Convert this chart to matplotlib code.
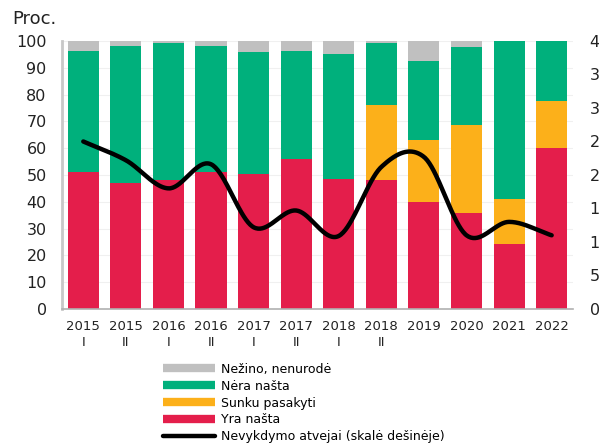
import matplotlib
matplotlib.use('Agg')
import matplotlib.pyplot as plt
import numpy as np
from matplotlib.lines import Line2D

# Data
periods = ['2015\nI', '2015\nII', '2016\nI', '2016\nII', '2017\nI', '2017\nII',
           '2018\nI', '2018\nII', '2019', '2020', '2021', '2022']
yra_nasta = [51.1, 47.0, 48.3, 51.1, 50.5, 56.0, 48.4, 48.3, 40.0, 35.7, 24.3, 60.2]
sunku_pasakyti = [0, 0, 0, 0, 0, 0, 0, 27.8, 23.1, 32.8, 16.7, 17.3]
nera_nasta = [45.2, 51.3, 51.1, 47.2, 45.5, 40.3, 46.9, 23.2, 29.4, 29.3, 59.0, 22.5]
nezino = [3.7, 1.7, 0.6, 1.7, 4.0, 3.7, 4.7, 0.7, 7.5, 2.2, 0.0, 0.0]
nevykdymo = [25.0, 22.2, 18.0, 21.6, 12.2, 14.7, 10.9, 21.2, 22.7, 11.0, 13.0, 11.0]

labels = ['Nežino, nenurodė', 'Nėra našta', 'Sunku pasakyti', 'Yra našta',
          'Nevykdymo atvejai (skalė dešinėje)']
c_gray = '#c0c0c0'
c_green = '#00b07c'
c_orange = '#fcb01a'
c_red = '#e41e4b'


def smooth_line(y, n=40):
    # Catmull-Rom curve through the points (like a "smoothed line")
    y = np.asarray(y, float)
    k = len(y)
    m = np.zeros(k)
    m[1:-1] = (y[2:] - y[:-2]) / 2
    m[0] = y[1] - y[0]
    m[-1] = y[-1] - y[-2]
    xs, ys = [], []
    t = np.linspace(0, 1, n)
    for i in range(k - 1):
        h00 = 2 * t**3 - 3 * t**2 + 1
        h10 = t**3 - 2 * t**2 + t
        h01 = -2 * t**3 + 3 * t**2
        h11 = t**3 - t**2
        xs.append(i + t)
        ys.append(h00 * y[i] + h10 * m[i] + h01 * y[i + 1] + h11 * m[i + 1])
    return np.concatenate(xs), np.concatenate(ys)


fig = plt.figure(figsize=(5.99, 4.43), dpi=100)
ax = fig.add_axes([0.1035, 0.3025, 0.853, 0.605])
x = np.arange(len(periods))
w = 0.73

bottom = np.zeros(len(x))
for vals, col in [(yra_nasta, c_red), (sunku_pasakyti, c_orange),
                  (nera_nasta, c_green), (nezino, c_gray)]:
    ax.bar(x, vals, w, bottom=bottom, color=col, zorder=2)
    bottom += np.array(vals)

ax.set_xlim(-0.5, 11.5)
ax.set_ylim(0, 100)
ax.set_yticks(range(0, 101, 10))
ax.set_xticks(x)
ax.set_xticklabels(periods, fontsize=9.5, color='#222222', linespacing=1.25)
ax.tick_params(axis='y', labelsize=11.5, length=0, pad=11, colors='#222222')
ax.tick_params(axis='x', length=0, pad=8)
ax.grid(axis='y', color='#f0f0f0', linewidth=0.8, zorder=0)
for s in ['top', 'right']:
    ax.spines[s].set_visible(False)
ax.spines['left'].set_color('#c8c8c8')
ax.spines['left'].set_linewidth(2)
ax.spines['bottom'].set_color('#b0b0b0')
ax.spines['bottom'].set_linewidth(1.2)

# right scale: labels run past the figure edge as in the original
ax2 = ax.twinx()
ax2.set_ylim(0, 40)
ax2.set_yticks(range(0, 41, 5))
ax2.tick_params(axis='y', labelsize=11.5, length=0, pad=12, colors='#222222')
for s in ax2.spines.values():
    s.set_visible(False)
xs, ys = smooth_line(nevykdymo)
ax2.plot(xs, ys, color='black', linewidth=3.2, solid_capstyle='round', zorder=5)

fig.text(0.02, 0.945, 'Proc.', fontsize=13, color='#222222')

handles = [Line2D([], [], color=c, linewidth=6, solid_capstyle='butt')
           for c in [c_gray, c_green, c_orange, c_red]]
handles.append(Line2D([], [], color='black', linewidth=3.2, solid_capstyle='round'))
fig.legend(handles, labels, loc='upper left', bbox_to_anchor=(0.2716, 0.181),
           frameon=False, fontsize=9, handlelength=4.15, handletextpad=0.5,
           labelspacing=0.31, borderpad=0, borderaxespad=0)

fig.savefig('out.png', dpi=100)
